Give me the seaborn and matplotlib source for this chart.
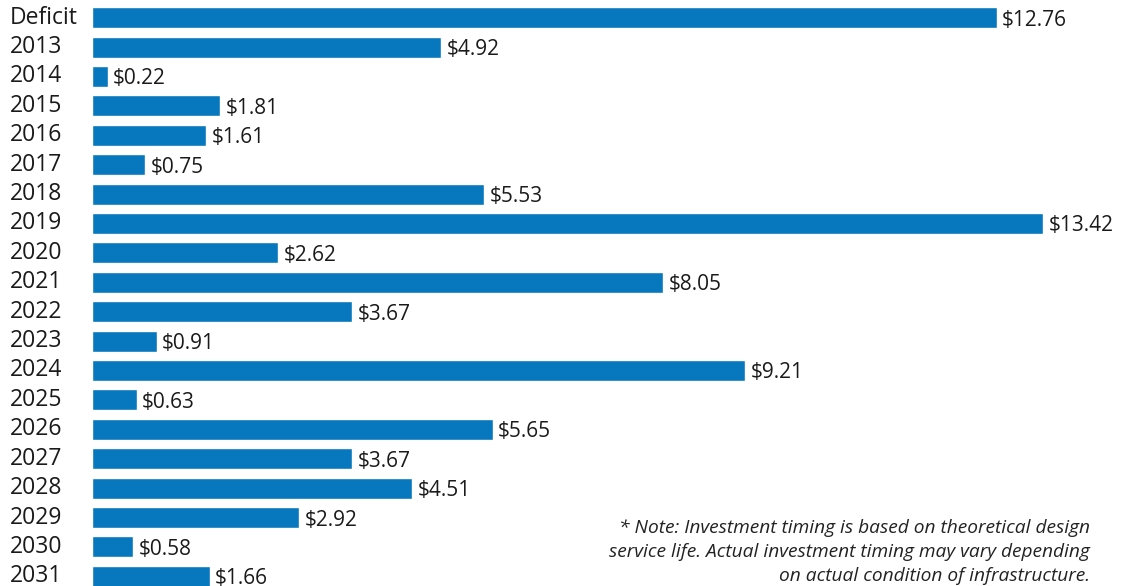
import matplotlib
matplotlib.use("Agg")
import matplotlib.pyplot as plt
from matplotlib.transforms import blended_transform_factory
import seaborn as sns
import pandas as pd

categories = ["Deficit", "2013", "2014", "2015", "2016", "2017", "2018", "2019",
              "2020", "2021", "2022", "2023", "2024", "2025", "2026", "2027",
              "2028", "2029", "2030", "2031"]
values = [12.76, 4.92, 0.22, 1.81, 1.61, 0.75, 5.53, 13.42, 2.62, 8.05,
          3.67, 0.91, 9.21, 0.63, 5.65, 3.67, 4.51, 2.92, 0.58, 1.66]
note_lines = [
    "* Note: Investment timing is based on theoretical design",
    "service life. Actual investment timing may vary depending",
    "on actual condition of infrastructure.",
]

sns.set_style("white")
plt.rcParams["font.family"] = ["Open Sans", "DejaVu Sans"]

df = pd.DataFrame({"category": categories, "value": values})

fig = plt.figure(figsize=(11.32, 5.86), dpi=100)
ax = fig.add_axes([92 / 1132, -5 / 586, 1040 / 1132, 588 / 586])

bar_color = "#0878be"
sns.barplot(data=df, y="category", x="value", orient="h", color=bar_color,
            saturation=1, width=0.72, ax=ax)

ax.set_xlim(0, 1040 / 70.9)
ax.set_ylim(len(categories) - 0.5, -0.5)
ax.set_xlabel("")
ax.set_ylabel("")
ax.set_xticks([])
for s in ax.spines.values():
    s.set_visible(False)

# Category labels, left-aligned in the margin at the category positions
ytick_pos = ax.get_yticks()
ytick_txt = [t.get_text() for t in ax.get_yticklabels()]
ax.set_yticklabels([])
ax.tick_params(axis="y", length=0)
lab_tr = blended_transform_factory(fig.transFigure, ax.transData)
for pos, txt in zip(ytick_pos, ytick_txt):
    ax.text(10 / 1132, pos, txt, transform=lab_tr, ha="left", va="center",
            fontsize=16.5, color="#1a1a1a", clip_on=False)

for container in ax.containers:
    texts = ax.bar_label(container, labels=[f"${v:.2f}" for v in values],
                         padding=4, fontsize=15, color="#1a1a1a",
                         label_type="edge")
    for t in texts:
        t.set_verticalalignment("center_baseline")

for i, line in enumerate(note_lines):
    fig.text(1090 / 1132, 1 - (528 + 24 * i) / 586, line, ha="right", va="center",
             fontsize=13.8, style="italic", color="#222222")

fig.savefig("out.png", dpi=100)
